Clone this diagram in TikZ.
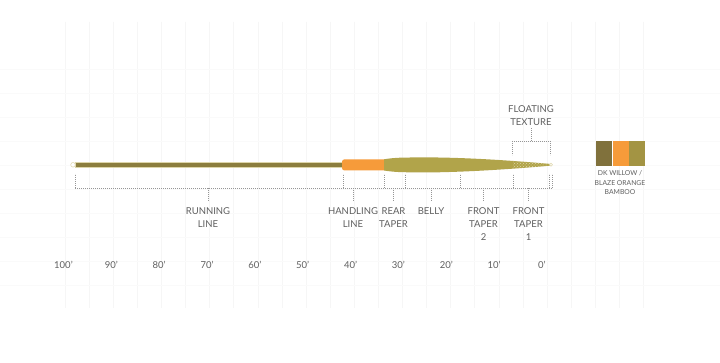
\documentclass[tikz,border=0pt]{standalone}
\usepackage{fontspec}
\setmainfont{Lato}
\usetikzlibrary{patterns}
\begin{document}
\begin{tikzpicture}[x=1pt,y=-1pt,
    lbl/.style={font=\fontsize{9.5}{13}\selectfont, text=labelgray, align=center, inner sep=0pt},
    smalllbl/.style={font=\fontsize{6.8}{9.7}\selectfont, text=labelgray, align=center, inner sep=0pt},
    dotline/.style={draw=dotgray, line width=0.5pt, dash pattern=on 0.8pt off 1.2pt},
    swatch/.style={draw=none, minimum width=16pt, minimum height=25pt, inner sep=0pt}]
    \definecolor{labelgray}{RGB}{95, 95, 95}
    \definecolor{dotgray}{RGB}{150, 150, 150}
    \definecolor{gridgray}{RGB}{246, 246, 246}
    \definecolor{gridlight}{RGB}{250, 250, 250}
    \definecolor{willow}{RGB}{128, 113, 60}
    \definecolor{runcolor}{RGB}{140, 126, 62}
    \definecolor{blaze}{RGB}{246, 155, 58}
    \definecolor{bamboo}{RGB}{177, 164, 74}
    \definecolor{swbamboo}{RGB}{163, 148, 67}
    \definecolor{edgetan}{RGB}{222, 214, 170}
    \def\lineY{164.8}
    \def\brkY{188}
    \def\tickTop{174}
    \useasboundingbox (0, 0) rectangle (720, 363);
    \fill[white] (0, 0) rectangle (720, 363);
    \foreach \k in {0,...,24}
        \draw[gridgray, line width=0.5pt] (65+24.1*\k, 22) -- (65+24.1*\k, 308);
    \foreach \k in {0,...,9}
        \draw[gridlight, line width=0.5pt] (0, 69+24*\k) -- (720, 69+24*\k);
    % running line
    \draw[edgetan, line width=0.5pt, fill=runcolor] (75, 162.4) rectangle (344, 167.4);
    \draw[edgetan, line width=0.5pt, fill=white] (73, \lineY) circle (2.3);
    % handling line
    \fill[blaze, rounded corners=2.5pt] (342, 159.3) rectangle (386, 170.5);
    % head
    \coordinate (tip) at (551, \lineY);
    \path[fill=bamboo] (384, 159.3) .. controls (392, 158) and (398, 157.6) .. (410, 157.5)
        -- (438, 157.5) .. controls (480, 158.2) and (520, 161.3) .. (550, 163.9)
        -- (550, 165.7) .. controls (520, 168.3) and (480, 171.4) .. (438, 172.3)
        -- (410, 172.3) .. controls (398, 172.2) and (392, 171.8) .. (384, 170.5) -- cycle;
    \begin{scope}
        \clip (438, 157.5) .. controls (480, 158.2) and (520, 161.3) .. (550, 163.9)
            -- (550, 165.7) .. controls (520, 168.3) and (480, 171.4) .. (438, 172.3) -- cycle;
        \fill[pattern=crosshatch dots, pattern color=edgetan] (513, 150) rectangle (552, 180);
    \end{scope}
    \draw[edgetan, line width=0.5pt, fill=white] (tip) circle (1.5);
    % segment bracket
    \foreach \name/\x in {b0/75, b1/343, b2/384, b3/405, b4/460, b5/513, b6/549, b7/552}
        \coordinate (\name) at (\x, \brkY);
    \foreach \name in {b0, b1, b2, b3, b4, b5, b6, b7}
        \draw[dotline] (\name) -- ++(0, \tickTop-\brkY);
    \draw[dotline] (b0) -- (b7);
    \node[lbl, anchor=north] (lblRun) at (208, 207) {RUNNING\\LINE};
    \node[lbl, anchor=north] (lblHand) at (353, 207) {HANDLING\\LINE};
    \node[lbl, anchor=north] (lblRear) at (393.5, 207) {REAR\\TAPER};
    \node[lbl, anchor=north] (lblBelly) at (431, 207) {BELLY};
    \node[lbl, anchor=north] (lblFT2) at (483.5, 207) {FRONT\\TAPER\\2};
    \node[lbl, anchor=north] (lblFT1) at (528.5, 207) {FRONT\\TAPER\\1};
    \foreach \n in {lblRun, lblHand, lblRear, lblBelly, lblFT2, lblFT1}
        \draw[dotline, shorten >=6pt] (\n.north |- b0) -- (\n.north);
    % floating texture
    \coordinate (f0) at (512, 141);
    \coordinate (f1) at (550, 141);
    \draw[dotline] (f0) -- ++(0, 14) (f1) -- ++(0, 14) (f0) -- (f1);
    \node[lbl, anchor=north] (lblFloat) at (531, 105) {FLOATING\\TEXTURE};
    \draw[dotline, shorten >=2pt] (lblFloat.south |- f0) -- (lblFloat.south);
    % colour swatch
    \node[swatch, fill=willow, anchor=north west] (sw1) at (596, 141) {};
    \node[swatch, fill=blaze, anchor=west] (sw2) at (sw1.east) {};
    \node[swatch, fill=swbamboo, anchor=west] (sw3) at (sw2.east) {};
    \node[smalllbl, anchor=north] (swlbl) at (620, 170.2) {DK WILLOW /\\BLAZE ORANGE\\BAMBOO};
    % scale
    \foreach \d [count=\i from 0] in {100,90,80,70,60,50,40,30,20,10,0}
        \node[lbl] (n\d) at (63.5+47.85*\i, 264.5) {\d’};
\end{tikzpicture}
\end{document}
